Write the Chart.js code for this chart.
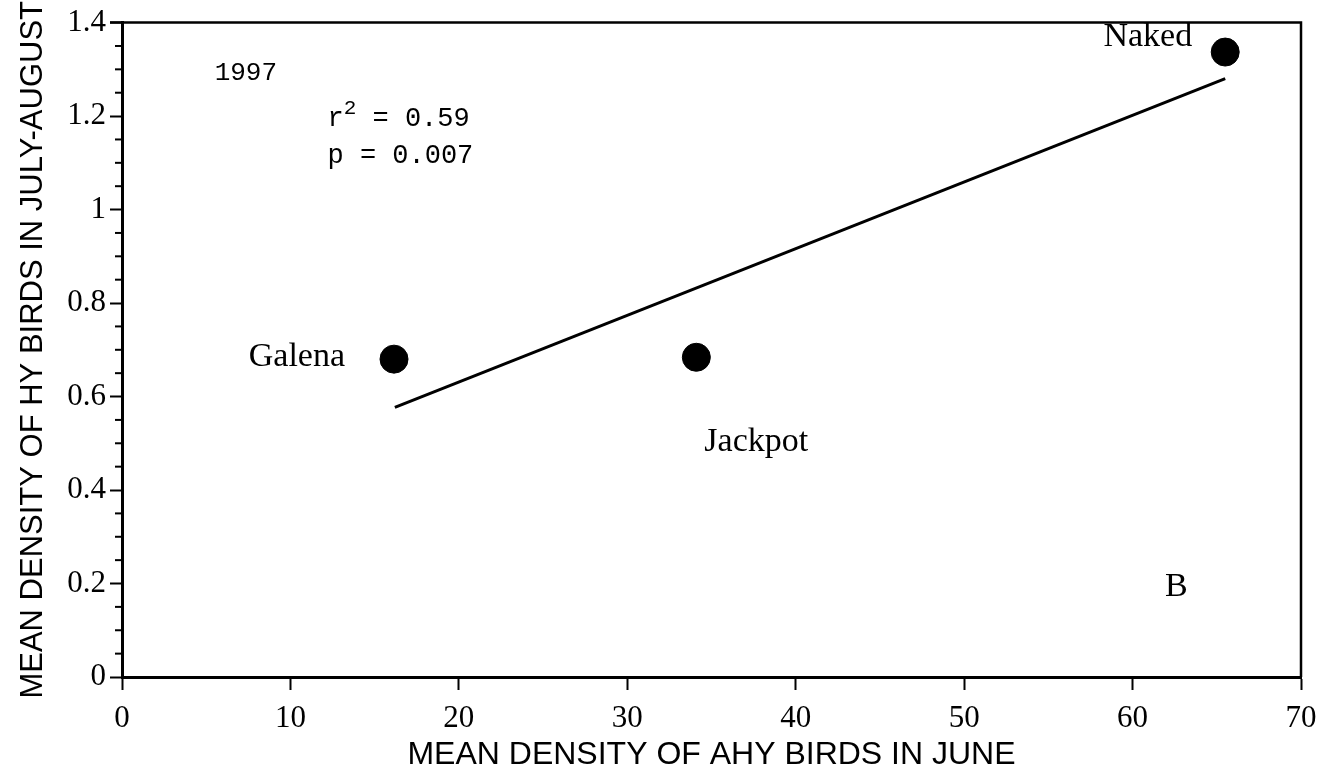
<!DOCTYPE html>
<html>
<head>
<meta charset="utf-8">
<script src="https://cdn.jsdelivr.net/npm/chart.js@4/dist/chart.umd.min.js"></script>
<style>
  html, body { margin: 0; padding: 0; background: #fff; }
  #wrap { width: 1334px; height: 774px; }
</style>
</head>
<body>
<div id="wrap"><canvas id="myChart"></canvas></div>
<script>
// sites, x = mean density of AHY birds in June, y = mean density of HY birds in July-August
const siteNames = ['Galena', 'Jackpot', 'Naked'];
const ahyJune = [16.15, 34.1, 65.5];
const hyJulyAug = [0.68, 0.684, 1.337];

// fitted regression line (end points)
const fitX = [16.2, 65.5];
const fitY = [0.577, 1.28];

const xTicks = [0, 10, 20, 30, 40, 50, 60, 70];
const yTicks = [0, 0.2, 0.4, 0.6, 0.8, 1, 1.2, 1.4];

const serif = "'Liberation Serif', 'Times New Roman', serif";
const mono = "'Liberation Mono', 'Courier New', monospace";
const sans = "'Liberation Sans', Arial, sans-serif";

const isMajorY = v => yTicks.some(t => Math.abs(t - v) < 1e-6);

// point labels, and text notes placed in data units
const labelPlugin = {
    id: 'labels',
    afterDatasetsDraw(chart) {
        const c = chart.ctx;
        const xs = chart.scales.x, ys = chart.scales.y;
        c.save();
        c.fillStyle = '#000';
        c.textBaseline = 'middle';

        // site names next to points
        c.font = '34px ' + serif;
        const offs = [
            { dx: -49, dy: -2, align: 'right' },
            { dx: 8, dy: 85, align: 'left' },
            { dx: -33, dy: -15, align: 'right' }
        ];
        siteNames.forEach((name, i) => {
            const px = xs.getPixelForValue(ahyJune[i]);
            const py = ys.getPixelForValue(hyJulyAug[i]);
            c.textAlign = offs[i].align;
            c.fillText(name, px + offs[i].dx, py + offs[i].dy);
        });

        // year
        c.textAlign = 'left';
        c.font = '26px ' + mono;
        c.fillText('1997', xs.getPixelForValue(5.5), ys.getPixelForValue(1.293));

        // stats
        const sx = xs.getPixelForValue(12.2);
        c.font = '27px ' + mono;
        let y1 = ys.getPixelForValue(1.195);
        c.fillText('r', sx, y1);
        let w = c.measureText('r').width;
        c.font = '21px ' + mono;
        c.fillText('2', sx + w, y1 - 10);
        w += c.measureText('2').width;
        c.font = '27px ' + mono;
        c.fillText(' = 0.59', sx + w, y1);
        c.fillText('p = 0.007', sx, ys.getPixelForValue(1.116));

        // panel letter
        c.textAlign = 'center';
        c.font = '34px ' + serif;
        c.fillText('B', xs.getPixelForValue(62.6), ys.getPixelForValue(0.193));
        c.restore();
    }
};

// frame, and short minor ticks on the y axis
const framePlugin = {
    id: 'frame',
    beforeDatasetsDraw(chart) {
        const c = chart.ctx;
        const a = chart.chartArea;
        const ys = chart.scales.y;
        c.save();
        c.strokeStyle = '#000';
        c.lineWidth = 2.5;
        c.beginPath();
        c.moveTo(a.left - 12, a.top);
        c.lineTo(a.right, a.top);
        c.lineTo(a.right, a.bottom);
        c.stroke();
        c.lineWidth = 2;
        ys.ticks.forEach(t => {
            if (isMajorY(t.value)) return;
            const py = ys.getPixelForValue(t.value);
            c.beginPath();
            c.moveTo(a.left - 7, py);
            c.lineTo(a.left, py);
            c.stroke();
        });
        c.restore();
    }
};

const ctx = document.getElementById('myChart');

new Chart(ctx, {
    type: 'scatter',
    data: {
        datasets: [{
            label: 'sites',
            data: ahyJune.map((x, i) => ({ x: x, y: hyJulyAug[i] })),
            backgroundColor: '#000',
            borderColor: '#000',
            pointRadius: 14,
            pointHoverRadius: 14,
            borderWidth: 1
        },
        {
            label: 'fit',
            data: fitX.map((x, i) => ({ x: x, y: fitY[i] })),
            showLine: true,
            borderColor: '#000',
            borderWidth: 3,
            pointRadius: 0,
            fill: false
        }]
    },
    options: {
        responsive: true,
        maintainAspectRatio: false,
        animation: false,
        layout: { padding: { left: 0, top: 5, right: 33, bottom: 0 } },
        plugins: {
            legend: { display: false },
            tooltip: { enabled: false }
        },
        scales: {
            x: {
                type: 'linear',
                min: 0,
                max: 70,
                afterBuildTicks: s => { s.ticks = xTicks.map(v => ({ value: v })); },
                afterFit: s => { s.height = 97; },
                ticks: {
                    color: '#000',
                    font: { family: serif, size: 31 },
                    padding: 10,
                    maxRotation: 0
                },
                grid: {
                    drawOnChartArea: false,
                    drawTicks: true,
                    tickLength: 13,
                    tickColor: '#000',
                    tickWidth: 2
                },
                border: { color: '#000', width: 3 },
                title: {
                    display: true,
                    text: 'MEAN DENSITY OF AHY BIRDS IN JUNE',
                    color: '#000',
                    font: { family: sans, size: 32 },
                    padding: { top: 0, bottom: 0 }
                }
            },
            y: {
                type: 'linear',
                min: 0,
                max: 1.4,
                ticks: {
                    stepSize: 0.05,
                    autoSkip: false,
                    color: '#000',
                    font: { family: serif, size: 31 },
                    padding: 4,
                    callback: v => isMajorY(v) ? String(Math.round(v * 10) / 10) : ''
                },
                afterFit: s => { s.width = 122; },
                grid: {
                    drawOnChartArea: false,
                    drawTicks: true,
                    tickLength: 12,
                    tickWidth: 2,
                    tickColor: c => isMajorY(c.tick.value) ? '#000' : 'rgba(0,0,0,0)'
                },
                border: { color: '#000', width: 3 },
                title: {
                    display: true,
                    text: 'MEAN DENSITY OF HY BIRDS IN JULY-AUGUST',
                    color: '#000',
                    font: { family: sans, size: 31 },
                    padding: { top: 15, bottom: 0 }
                }
            }
        }
    },
    plugins: [framePlugin, labelPlugin]
});
</script>
</body>
</html>
